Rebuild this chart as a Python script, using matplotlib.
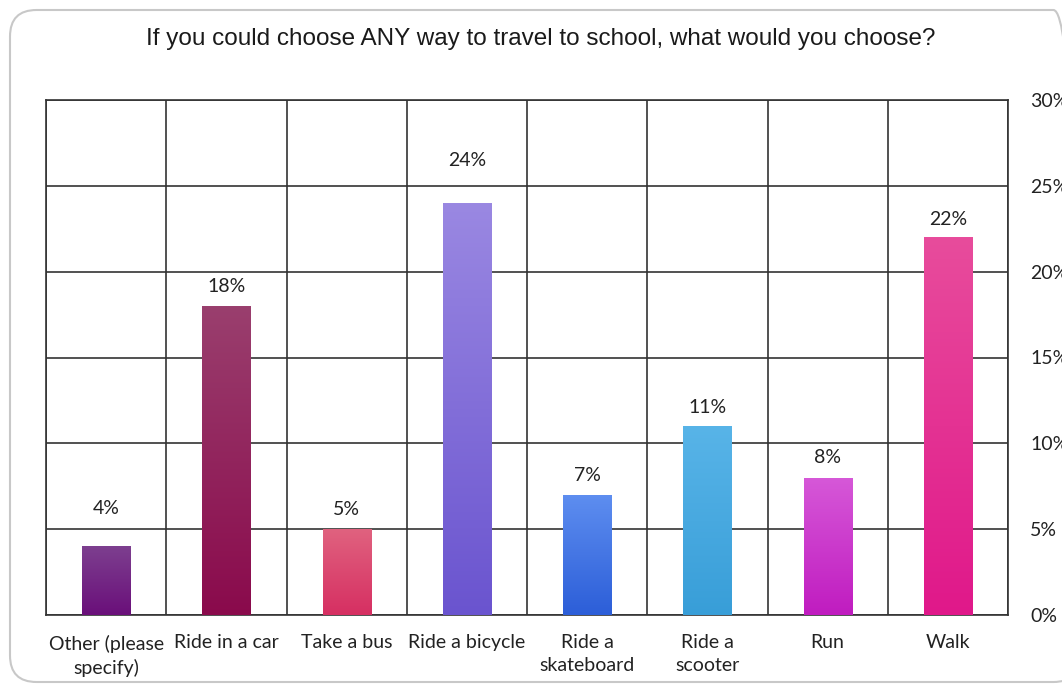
import numpy as np
import matplotlib
matplotlib.use("Agg")
import matplotlib.pyplot as plt
from matplotlib.patches import FancyBboxPatch
from matplotlib.colors import LinearSegmentedColormap
from matplotlib.ticker import PercentFormatter, MultipleLocator

categories = ["Other (please\nspecify)", "Ride in a car", "Take a bus", "Ride a bicycle",
              "Ride a\nskateboard", "Ride a\nscooter", "Run", "Walk"]
values = [4, 18, 5, 24, 7, 11, 8, 22]
labels = ["4%", "18%", "5%", "24%", "7%", "11%", "8%", "22%"]
top_colors = ["#7d3f8f", "#9a3f6e", "#e0627f", "#9a88e2", "#5e8ef0", "#58b4e8", "#d658d8", "#e84c9c"]
bottom_colors = ["#6a0f7a", "#8a0a4c", "#d62f62", "#6a54cf", "#2c5ed8", "#389ed8", "#c01cc0", "#e0188a"]
label_offsets = [38, 20, 20, 43, 19, 19, 20, 18]  # px above bar top

fig = plt.figure(figsize=(10.62, 6.85), dpi=100)
W, H = 1062, 685

border = FancyBboxPatch((10 / W, 1 - 682 / H), (1080 - 10) / W, (682 - 10) / H,
                        boxstyle="round,pad=0,rounding_size=0.025",
                        transform=fig.transFigure, fill=False,
                        edgecolor="#c8c8c8", linewidth=1.5, mutation_aspect=W / H)
fig.patches.append(border)

ax = fig.add_axes([46 / W, 1 - 615 / H, (1008 - 46) / W, (615 - 100) / H])
x = np.arange(len(categories))
bars = ax.bar(x, values, width=0.4, color="none", zorder=3)

for b, tc, bc in zip(bars, top_colors, bottom_colors):
    cmap = LinearSegmentedColormap.from_list("g", [bc, tc])
    x0, y0 = b.get_x(), b.get_y()
    grad = np.linspace(0, 1, 256).reshape(-1, 1)
    im = ax.imshow(grad, cmap=cmap, origin="lower", aspect="auto",
                   extent=[x0, x0 + b.get_width(), y0, y0 + b.get_height()], zorder=3)
    im.set_clip_path(b)

ax.set_xlim(-0.5, len(categories) - 0.5)
ax.set_ylim(0, 30)

for b, lab, off in zip(bars, labels, label_offsets):
    ax.annotate(lab, (b.get_x() + b.get_width() / 2, b.get_height()),
                xytext=(0, off * 0.72), textcoords="offset points",
                ha="center", va="center", fontsize=14, family="Lato", color="#222222")

ax.yaxis.set_major_locator(MultipleLocator(5))
ax.yaxis.set_major_formatter(PercentFormatter(decimals=0))
ax.yaxis.tick_right()
ax.tick_params(axis="y", length=0, pad=16, labelsize=14, labelcolor="#222222")
ax.set_xticks(x)
ax.set_xticklabels(categories)
ax.tick_params(axis="x", length=0, pad=14, labelsize=14, labelcolor="#222222")
for t in ax.get_xticklabels() + ax.get_yticklabels():
    t.set_family("Lato")
    t.set_linespacing(1.4)

ax.set_xticks(np.arange(-0.5, len(categories), 1), minor=True)
ax.tick_params(axis="x", which="minor", length=0)
ax.grid(True, which="minor", axis="x", color="#333333", linewidth=1.2, zorder=1)
ax.grid(True, which="major", axis="y", color="#333333", linewidth=1.2, zorder=1)
ax.set_axisbelow(True)
for s in ax.spines.values():
    s.set_color("#333333")
    s.set_linewidth(1.2)

fig.text(0.5 * (145 + 937) / W, 1 - 39 / H,
         "If you could choose ANY way to travel to school, what would you choose?",
         ha="center", va="center", fontsize=17.5, family="Liberation Sans", color="#1a1a1a")

fig.savefig("out.png", dpi=100)
